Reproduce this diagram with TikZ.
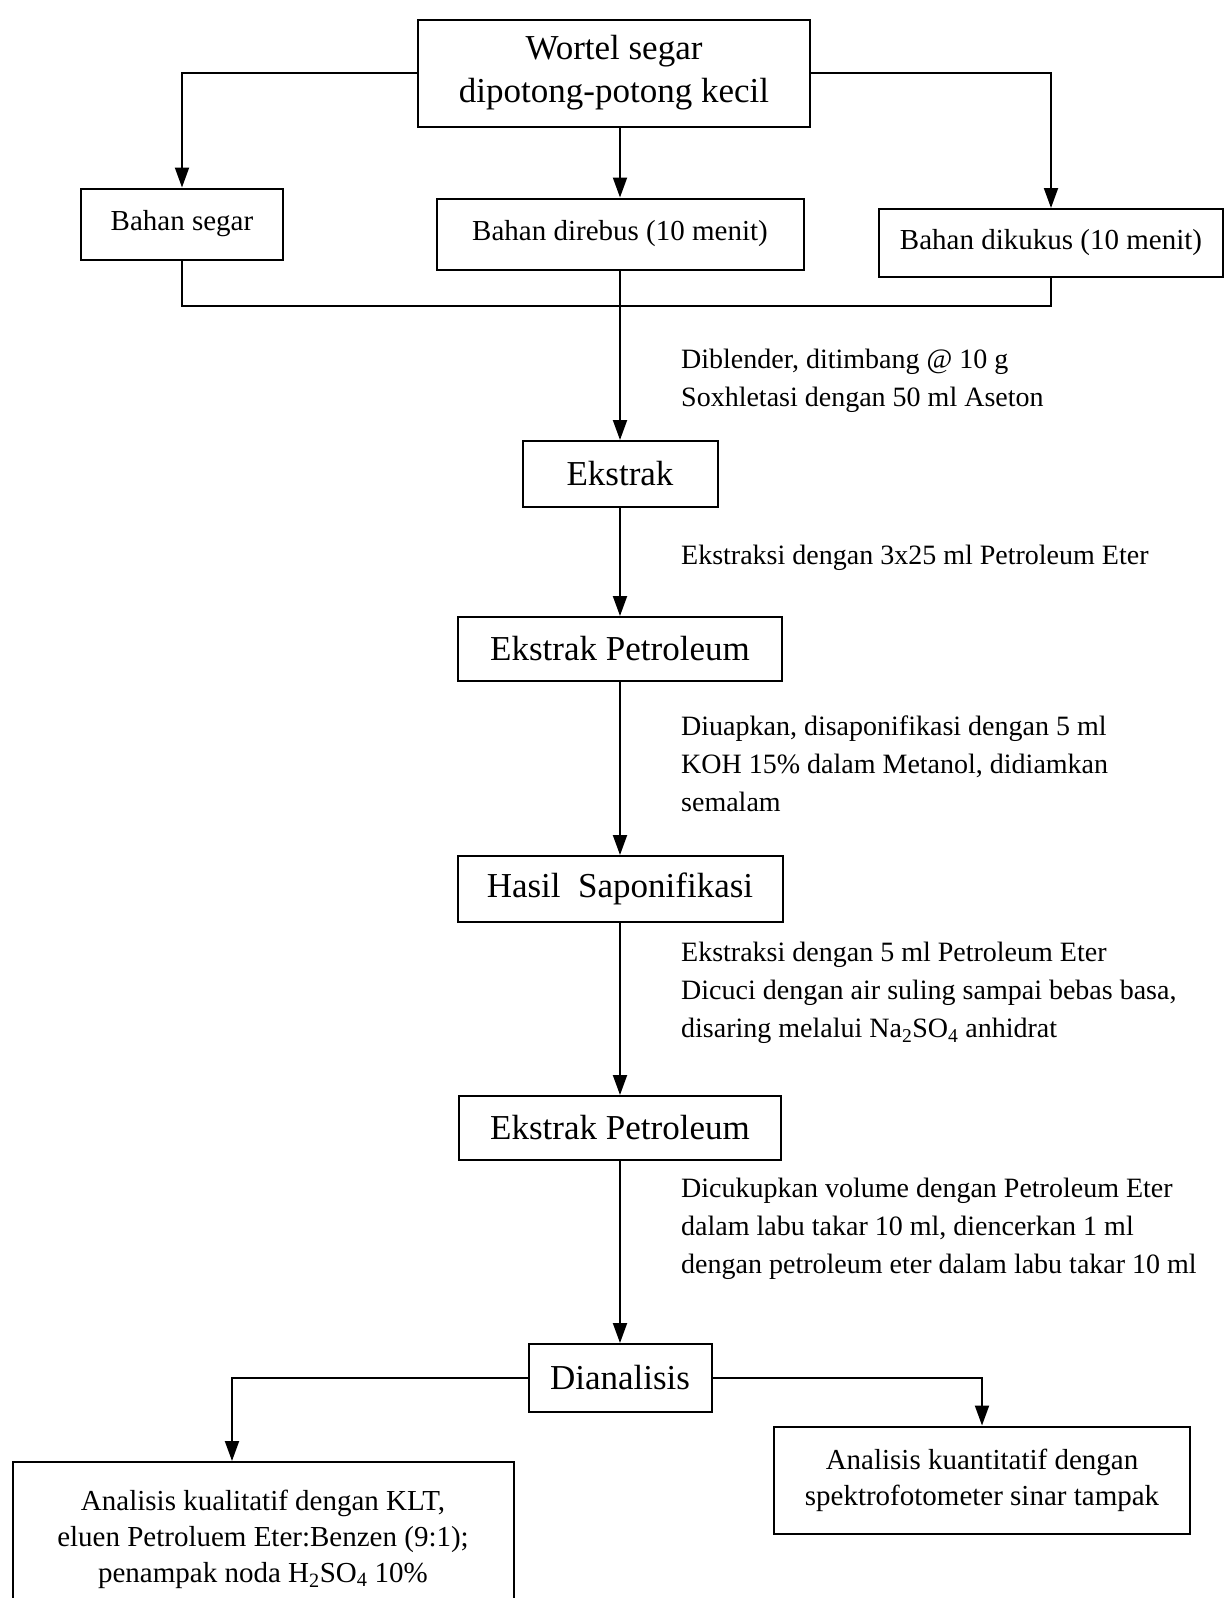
\documentclass[tikz,border=0pt]{standalone}
\usepackage{fontspec}
\setmainfont{Liberation Serif}
\usetikzlibrary{arrows.meta,positioning,calc}

\begin{document}
\begin{tikzpicture}[
    x=1pt,
    y=-1pt,
    >={Triangle[length=20pt,width=14pt]},
    mainbox/.style={
        rectangle,
        draw=black,
        line width=2pt,
        inner sep=0pt,
        align=center,
        font=\fontsize{35}{43}\selectfont
    },
    subbox/.style={
        rectangle,
        draw=black,
        line width=2pt,
        inner sep=0pt,
        align=center,
        font=\fontsize{29}{36}\selectfont
    },
    note/.style={
        anchor=west,
        inner sep=0pt,
        align=left,
        font=\fontsize{28}{38}\selectfont
    },
    arrow/.style={
        ->,
        line width=2pt,
        draw=black
    },
    link/.style={
        line width=2pt,
        draw=black
    }
]

\useasboundingbox (0,0) rectangle (1227,1598);

\node[mainbox, minimum width=392, minimum height=107] (wortel) at (614,73) {Wortel segar\\dipotong-potong kecil};

\node[subbox, minimum width=202, minimum height=71] (segar) at (182,224) {Bahan segar};
\node[subbox, minimum width=367, minimum height=71] (direbus) at (620,234) {Bahan direbus (10 menit)};
\node[subbox, minimum width=344, minimum height=68] (kukus) at (1051,243) {Bahan dikukus (10 menit)};

\draw[arrow] (wortel.west) -| (segar.north);
\draw[arrow] (direbus.north |- wortel.south) -- (direbus.north);
\draw[arrow] (wortel.east) -| (kukus.north);

\coordinate (merge) at (620,306);
\draw[link] (segar.south) |- (merge) -| (kukus.south);

\node[mainbox, minimum width=195, minimum height=66] (ekstrak) at (620,474) {Ekstrak};
\node[mainbox, minimum width=324, minimum height=64] (petro1) at (620,649) {Ekstrak Petroleum};
\node[mainbox, minimum width=325, minimum height=66] (sapon) at (620,889) {Hasil\ \ Saponifikasi};
\node[mainbox, minimum width=322, minimum height=64] (petro2) at (620,1128) {Ekstrak Petroleum};
\node[mainbox, minimum width=183, minimum height=68] (dianalisis) at (620,1378) {Dianalisis};

\draw[arrow] (direbus.south) -- (ekstrak.north);
\draw[arrow] (ekstrak.south) -- (petro1.north);
\draw[arrow] (petro1.south) -- (sapon.north);
\draw[arrow] (sapon.south) -- (petro2.north);
\draw[arrow] (petro2.south) -- (dianalisis.north);

\node[note] (blend) at (681,381) {Diblender, ditimbang @ 10 g\\Soxhletasi dengan 50 ml Aseton};
\node[note] (ekstraksi) at (681,558) {Ekstraksi dengan 3x25 ml Petroleum Eter};
\node[note] (uap) at (681,764) {Diuapkan, disaponifikasi dengan 5 ml\\KOH 15\% dalam Metanol, didiamkan\\semalam};
\node[note] (cuci) at (681,993) {Ekstraksi dengan 5 ml Petroleum Eter\\Dicuci dengan air suling sampai bebas basa,\\disaring melalui Na\textsubscript{2}SO\textsubscript{4} anhidrat};
\node[note] (cukup) at (681,1229) {Dicukupkan volume dengan Petroleum Eter\\dalam labu takar 10 ml, diencerkan 1 ml\\dengan petroleum eter dalam labu takar 10 ml};

\node[subbox, minimum width=501, minimum height=154] (kualitatif) at (263,1539) {Analisis kualitatif dengan KLT,\\eluen Petroluem Eter:Benzen (9:1);\\penampak noda H\textsubscript{2}SO\textsubscript{4} 10\%};
\node[subbox, minimum width=416, minimum height=107] (kuantitatif) at (982,1480) {Analisis kuantitatif dengan\\spektrofotometer sinar tampak};

\draw[arrow] (dianalisis.west) -| ([xshift=-31pt]kualitatif.north);
\draw[arrow] (dianalisis.east) -| (kuantitatif.north);

\end{tikzpicture}
\end{document}
